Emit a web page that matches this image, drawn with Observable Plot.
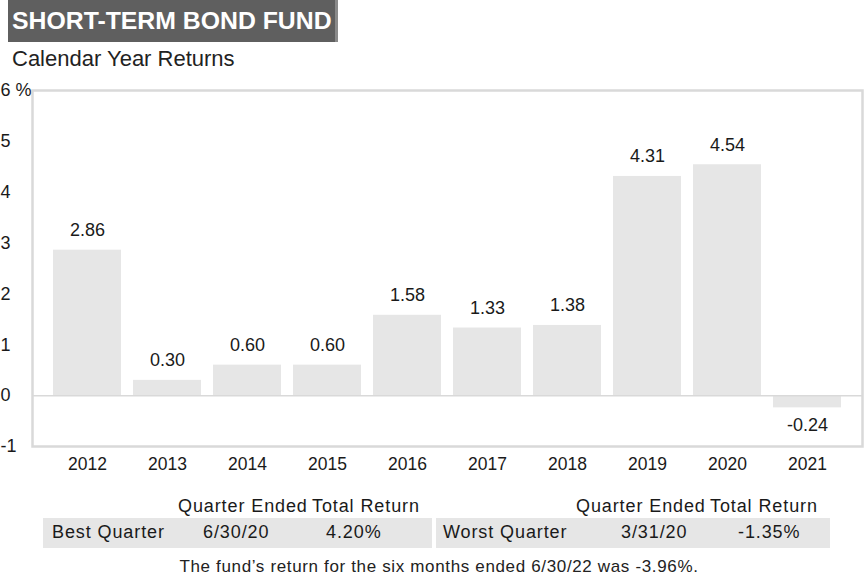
<!DOCTYPE html>
<html>
<head>
<meta charset="utf-8">
<script src="https://cdn.jsdelivr.net/npm/d3@7"></script>
<script src="https://cdn.jsdelivr.net/npm/@observablehq/plot@0.6"></script>
<style>
  html, body { margin: 0; padding: 0; background: #fff; }
  body { width: 865px; height: 580px; position: relative; overflow: hidden;
         font-family: "Liberation Sans", Arial, Helvetica, sans-serif; color: #1a1a1a; }
  .title { position: absolute; left: 8px; top: 0; width: 330px; height: 42px; background: #5f5f5f;
           border-right: 3px solid #8a8a8a; color: #fff; font-weight: bold; font-size: 24.8px;
           line-height: 42px; padding-left: 4px; box-sizing: border-box; white-space: nowrap; }
  .subtitle { position: absolute; left: 12px; top: 46px; font-size: 22px; color: #222; }
  #chart { position: absolute; left: 0; top: 72px; }
  .t { position: absolute; font-size: 18px; letter-spacing: 0.9px; white-space: nowrap; color: #1a1a1a; }
  .bg { position: absolute; background: #e6e6e6; top: 518px; height: 30px; }
  .foot { position: absolute; left: 0; width: 878px; text-align: center; top: 557px;
          font-size: 17px; letter-spacing: 0.65px; color: #222; }
</style>
</head>
<body>
<div class="title">SHORT-TERM BOND FUND</div>
<div class="subtitle">Calendar Year Returns</div>
<div id="chart"></div>
<div id="table"></div>
<div class="foot" id="foot"></div>
<script>
const years = ["2012","2013","2014","2015","2016","2017","2018","2019","2020","2021"];
const returns = [2.86, 0.30, 0.60, 0.60, 1.58, 1.33, 1.38, 4.31, 4.54, -0.24];
const yTicks = [-1, 0, 1, 2, 3, 4, 5, 6];
const tableHeaders = ["Quarter Ended", "Total Return"];
const quarterLabels = ["Best Quarter", "Worst Quarter"];
const quarterDates = ["6/30/20", "3/31/20"];
const quarterReturns = ["4.20%", "-1.35%"];
const footnote = "The fund\u2019s return for the six months ended 6/30/22 was -3.96%.";

const data = years.map((y, i) => ({year: y, value: returns[i]}));

const chart = Plot.plot({
  width: 865,
  height: 410,
  marginTop: 18,
  marginBottom: 36,
  marginLeft: 32,
  marginRight: 3,
  style: {fontFamily: '"Liberation Sans", Arial, sans-serif', fontSize: "17px", color: "#1a1a1a", background: "#fff"},
  x: {domain: years, paddingInner: 0.15, paddingOuter: 0.2625, label: null},
  y: {domain: [-1, 6], label: null},
  marks: [
    Plot.barY(data, {x: "year", y: "value", fill: "#e6e6e6"}),
    Plot.ruleY([0], {stroke: "#d9d9d9", strokeWidth: 1.5}),
    Plot.frame({stroke: "#d9d9d9", strokeWidth: 2.5}),
    Plot.text(data.filter(d => d.value >= 0), {x: "year", y: "value", text: d => d.value.toFixed(2), dy: -20, fontSize: 18, fill: "#1a1a1a"}),
    Plot.text(data.filter(d => d.value < 0), {x: "year", y: "value", text: d => d.value.toFixed(2), dy: 17, fontSize: 18, fill: "#1a1a1a"}),
    Plot.axisY({ticks: yTicks, tickSize: 0, tickPadding: 3, textAnchor: "start", dx: -29, fontSize: 18,
                tickFormat: d => d === 6 ? "6 %" : String(d), label: null}),
    Plot.axisX({tickSize: 0, tickPadding: 11, fontSize: 17.5, label: null})
  ]
});
document.getElementById("chart").appendChild(chart);

// table
const tbl = document.getElementById("table");
function addText(txt, left, top) {
  const d = document.createElement("div");
  d.className = "t"; d.textContent = txt;
  d.style.left = left + "px"; d.style.top = top + "px";
  tbl.appendChild(d);
}
function addBg(left, width) {
  const d = document.createElement("div");
  d.className = "bg"; d.style.left = left + "px"; d.style.width = width + "px";
  tbl.appendChild(d);
}
addBg(43, 389);
addBg(436, 394);
const cols = [
  {label: 52, date: 203, ret: 326, h1: 178, h2: 312},
  {label: 443, date: 621, ret: 738, h1: 576, h2: 710}
];
cols.forEach((c, i) => {
  addText(tableHeaders[0], c.h1, 496);
  addText(tableHeaders[1], c.h2, 496);
  addText(quarterLabels[i], c.label, 522);
  addText(quarterDates[i], c.date, 522);
  addText(quarterReturns[i], c.ret, 522);
});
document.getElementById("foot").textContent = footnote;
</script>
</body>
</html>
